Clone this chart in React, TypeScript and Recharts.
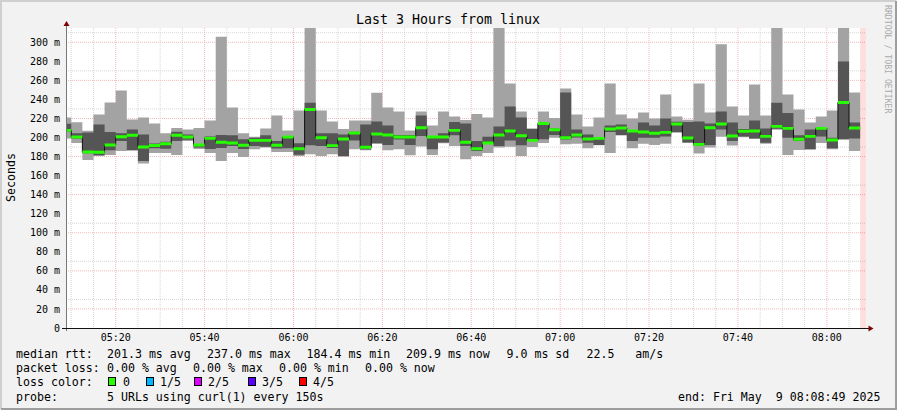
import { ComposedChart, Area, XAxis, YAxis, CartesianGrid, ReferenceArea } from 'recharts';

// probe rounds: minutes after 05:00, one round every 150 s
const FIRST_ROUND = 7.5;
const ROUND = 2.5;
const VIEW_FROM = 8.8167; // 05:08:49
const VIEW_TO = 188.8167; // 08:08:49

// rtt per round in ms (smoke = min..max, dark = inner spread)
const rttMax = [
  221, 216, 207, 224.3, 236.8, 249.4, 219, 221.1, 214.8, 204.4, 210, 208.5, 210, 218, 305.9,
  231.6, 204.4, 200.9, 209.6, 223.2, 207.5, 228.4, 330, 228.4, 216.9, 208.9, 218, 218, 246.9, 231.6,
  227.4, 207.5, 227.4, 212.7, 227.4, 222.2, 218.3, 224.6, 221.1, 330, 256.7, 227.4, 209.3, 227.4, 220.4,
  251.5, 224.3, 211.7, 221.1, 256.7, 224.3, 220.1, 226.4, 220.1, 245.2, 222.2, 218.7, 256.7, 226.4, 297.9,
  232.6, 223.2, 255.7, 223.2, 330, 245.2, 229.5, 215.9, 222.2, 228.4, 330, 247.3,
];
const rttHigh = [
  214.5, 204.4, 205.4, 213.8, 205.8, 204.4, 208.5, 203.3, 193.8, 195.6, 206.1, 203.3, 192.8, 201.2, 202.6,
  202.3, 198.1, 199.8, 202.3, 196.3, 200.9, 193.9, 236.5, 204.4, 204.4, 203.3, 206.1, 213.8, 216.9, 212.7,
  202.6, 202.6, 223.2, 200.5, 204.4, 216.2, 214.8, 196.3, 200.9, 211.7, 232.6, 221.1, 209.3, 214.8, 209.6,
  247.3, 208.5, 203.3, 200.5, 212.7, 213.8, 207.5, 215.9, 212.7, 220.1, 216.6, 216.2, 216.9, 214.8, 227.4,
  215.9, 208.9, 218, 209.6, 236.5, 225.7, 202.3, 208.5, 210.3, 199.8, 279.8, 215.9,
];
const rttMedian = [
  207.5, 200.5, 184.8, 184.5, 192.2, 200.9, 202.3, 190, 191.6, 193.5, 202.3, 200.5, 192.2, 199.1, 195,
  194.2, 191.8, 197, 197, 191.8, 200.5, 188.3, 229.5, 199.8, 191.5, 198.4, 204.7, 189.7, 203.7, 202.6,
  200.5, 200.5, 210.3, 200.5, 200.5, 207.5, 195, 188.3, 194.2, 202.6, 206.8, 201.9, 197, 214.8, 208.2,
  199.8, 202.6, 198.4, 199.1, 208.9, 210, 206.8, 205.8, 204.4, 205.4, 214.1, 199.5, 192.8, 210.3, 214.1,
  201.6, 206.5, 206.8, 201.2, 211.7, 209.6, 198.1, 201.2, 209.6, 197.4, 236.8, 210,
];
const rttLow = [
  206, 199, 183.5, 181.3, 186.6, 196.3, 187, 175.4, 188.7, 188.3, 196.3, 197.7, 189.4, 188, 189,
  191, 188, 191.1, 190.4, 188.5, 188.7, 182, 191.8, 191.1, 189, 180.6, 197, 187.3, 193.9, 192.2,
  198, 192.2, 201.6, 187.6, 194.9, 202.3, 191.1, 185.9, 193.5, 191.1, 197, 192, 196.3, 198.1, 202.6,
  198, 200, 194.6, 192.2, 205.8, 202.6, 196.3, 199.8, 199.8, 201, 205.8, 194.9, 191.5, 192.2, 208.5,
  196.3, 201.1, 199.1, 194.6, 209.3, 199.8, 196.3, 187.6, 201.2, 188.7, 198.1, 199.1,
];
const rttMin = [
  199, 194.2, 176.4, 180.5, 181.7, 185.9, 186, 172.6, 183.8, 183.8, 181.7, 196.3, 188, 183.8, 175.4,
  183.8, 179.6, 187.6, 189.4, 184.8, 184.8, 180.6, 182.4, 180.6, 182.4, 179.9, 187.6, 186.6, 193.5, 186.6,
  187.6, 181.3, 190.7, 181.7, 194, 191.1, 177.1, 180.6, 183.8, 189.4, 190.4, 180.6, 190, 194.2, 199.8,
  192.9, 193.5, 188.7, 191.8, 183.8, 202, 188.7, 193.5, 192.2, 193.5, 205, 194.5, 183.1, 189.4, 200.9,
  191.5, 200.3, 198.8, 193.5, 208.2, 181.7, 186.9, 187.3, 194.2, 187.6, 197.8, 185.9,
];

const timeTicks = [20, 40, 60, 80, 100, 120, 140, 160, 180];
const timeLabels = ['05:20', '05:40', '06:00', '06:20', '06:40', '07:00', '07:20', '07:40', '08:00'];
const rttTicks = [0, 20, 40, 60, 80, 100, 120, 140, 160, 180, 200, 220, 240, 260, 280, 300];
const minorTime = [10, 15, 25, 30, 35, 45, 50, 55, 65, 70, 75, 85, 90, 95, 105, 110, 115, 125, 130, 135, 145, 150, 155, 165, 170, 175, 185];
const minorRtt = [10, 30, 50, 70, 90, 110, 130, 150, 170, 190, 210, 230, 250, 270, 290, 310];

// legend items as rrdtool places them (x, text)
const rttLegend: [number, string][] = [
  [16, 'median rtt:'], [107, '201.3 ms avg'], [207, '237.0 ms max'], [306.5, '184.4 ms min'],
  [406, '209.9 ms now'], [506.5, '9.0 ms sd'], [586.5, '22.5   am/s'],
];
const lossLegend: [number, string][] = [
  [16, 'packet loss:'], [107, '0.00 % avg'], [193, '0.00 % max'], [279, '0.00 % min'], [365, '0.00 % now'],
];
const lossColors = [
  { label: '0', color: '#26ff00', box: 108, text: 123 },
  { label: '1/5', color: '#00b8ff', box: 146, text: 160 },
  { label: '2/5', color: '#dd00ff', box: 194, text: 208 },
  { label: '3/5', color: '#5e00ff', box: 248, text: 262 },
  { label: '4/5', color: '#ff0000', box: 299, text: 313 },
];

const MED_HALF = 1.55;
const mono = "'DejaVu Sans Mono', monospace";
// keep rrdtool's column spacing
const pre = (s: string) => s.replace(/ /g, '\u00a0');

const rows = rttMedian.map((m, i) => ({
  t: FIRST_ROUND + i * ROUND,
  min: rttMin[i],
  max: rttMax[i],
  lo: rttLow[i],
  hi: rttHigh[i],
  med: m,
}));
// closing point so the last step gets its width
rows.push({ ...rows[rows.length - 1], t: FIRST_ROUND + rows.length * ROUND });

export default function App() {
  return (
    <div style={{ position: 'absolute', left: 0, top: 0, width: 897, height: 410, background: '#f2f2f2' }}>
      <ComposedChart width={897} height={410} data={rows} margin={{ top: 28, right: 31, bottom: 62, left: 0 }}>
        <CartesianGrid fill="#ffffff" stroke="#d6d6d6" strokeDasharray="1 1"
          horizontalValues={minorRtt} verticalValues={minorTime} />
        <CartesianGrid stroke="#f3b8b8" strokeDasharray="1 1"
          horizontalValues={rttTicks.slice(1)} verticalValues={timeTicks} />
        <XAxis dataKey="t" type="number" domain={[VIEW_FROM, VIEW_TO]} allowDataOverflow
          ticks={timeTicks} tickFormatter={(v: number) => timeLabels[timeTicks.indexOf(v)]}
          axisLine={false} tickLine={false} tickSize={3} tickMargin={2.5} height={20}
          tick={{ fontSize: 10, fontFamily: mono, fill: '#000' }} />
        <YAxis type="number" domain={[0, 315]} allowDataOverflow ticks={rttTicks}
          tickFormatter={(v: number) => (v === 0 ? '0' : `${v} m`)}
          axisLine={false} tickLine={false} tickSize={3} tickMargin={3} width={66}
          tick={{ fontSize: 10, fontFamily: mono, fill: '#000' }} />
        <Area type="stepAfter" dataKey={(d: any) => [d.min, d.max]} fill="#a3a3a3" fillOpacity={1}
          stroke="none" isAnimationActive={false} />
        <Area type="stepAfter" dataKey={(d: any) => [d.lo, d.hi]} fill="#555555" fillOpacity={1}
          stroke="none" isAnimationActive={false} />
        <Area type="stepAfter" dataKey="med" fill="none" stroke="#111" strokeWidth={1}
          isAnimationActive={false} />
        <Area type="stepAfter" dataKey={(d: any) => [d.med - MED_HALF, d.med + MED_HALF]} fill="#26ff00"
          fillOpacity={1} stroke="none" isAnimationActive={false} />
        <ReferenceArea x1={FIRST_ROUND + rttMedian.length * ROUND} x2={VIEW_TO} y1={0} y2={315}
          fill="#ff0000" fillOpacity={0.13} stroke="none" ifOverflow="hidden" />
      </ComposedChart>

      <svg width={897} height={410} fontFamily={mono}
        style={{ position: 'absolute', left: 0, top: 0, pointerEvents: 'none' }}>
        <path d="M1 409 V1 H896" stroke="#cfcfcf" strokeWidth={2} fill="none" />
        <path d="M1 409 H896 V1" stroke="#9e9e9e" strokeWidth={2} fill="none" />

        {/* axes with arrows */}
        <line x1={66.5} y1={331} x2={66.5} y2={25} stroke="#777" />
        <line x1={62} y1={328.5} x2={869} y2={328.5} stroke="#111" />
        <polygon points="66.5,21 63.5,26 69.5,26" fill="#7f0000" />
        <polygon points="873.5,328.5 868.5,325.5 868.5,331.5" fill="#7f0000" />

        <text x={448} y={23.5} fontSize={13.3} textAnchor="middle" fill="#000">Last 3 Hours from linux</text>
        <text transform="translate(15,177.5) rotate(-90)" fontSize={11.6} textAnchor="middle" fill="#000">Seconds</text>
        <text transform="translate(885,5) rotate(90)" fontSize={8.2} fill="#aaaaaa">RRDTOOL / TOBI OETIKER</text>

        <g fontSize={11.6} fill="#000">
          {rttLegend.map(([x, s]) => (
            <text key={s} x={x} y={357.8}>{pre(s)}</text>
          ))}
          {lossLegend.map(([x, s]) => (
            <text key={x} x={x} y={372.1}>{pre(s)}</text>
          ))}
          <text x={16} y={386.4}>loss color:</text>
          {lossColors.map((c) => (
            <g key={c.label}>
              <rect x={c.box + 0.5} y={377.5} width={7} height={8} fill={c.color} stroke="#000" />
              <text x={c.text} y={386.4}>{c.label}</text>
            </g>
          ))}
          <text x={16} y={400.7}>probe:</text>
          <text x={107} y={400.7}>{pre('5 URLs using curl(1) every 150s')}</text>
          <text x={678} y={400.5}>{pre('end: Fri May  9 08:08:49 2025')}</text>
        </g>
      </svg>
    </div>
  );
}
